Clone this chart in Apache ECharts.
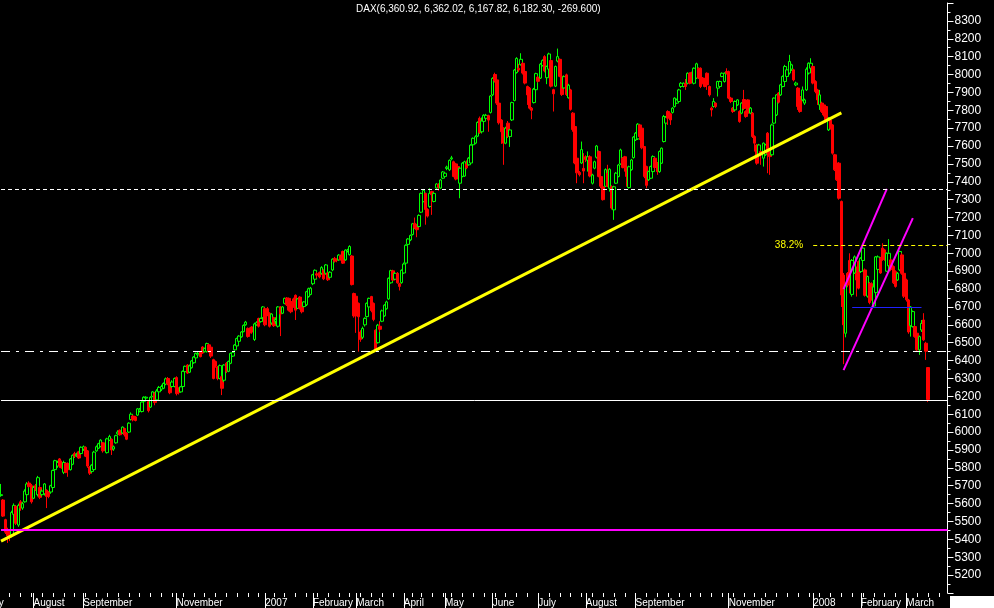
<!DOCTYPE html>
<html>
<head>
<meta charset="utf-8">
<script src="https://cdn.jsdelivr.net/npm/echarts@6/dist/echarts.min.js"></script>
<style>
html,body{margin:0;padding:0;background:#000;overflow:hidden;}
#chart{width:994px;height:608px;}
</style>
</head>
<body>
<div id="chart"></div>
<script>
// ---- DATA: daily DAX candles, each [open, close, low, high] ----
const jul06 = [[5645,5650,5638,5710],[5620,5530,5525,5625],[5510,5440,5430,5515],[5455,5420,5380,5465],[5440,5410,5390,5450],[5425,5550,5410,5560],[5540,5590,5520,5601],[5585,5490,5480,5590],[5480,5590,5470,5600],[5610,5575,5560,5620],[5575,5600,5565,5610],[5610,5670,5605,5680],[5650,5710,5640,5720],[5715,5695,5690,5725],[5700,5610,5600,5710]];
const aug06 = [[5630,5690,5625,5700],[5700,5680,5670,5710],[5650,5745,5640,5755],[5690,5635,5625,5700],[5650,5670,5640,5680],[5655,5710,5645,5715],[5675,5640,5575,5680],[5665,5640,5630,5670],[5665,5700,5655,5705],[5690,5785,5685,5790],[5790,5840,5785,5845],[5810,5830,5800,5840],[5850,5810,5800,5855],[5830,5800,5795,5840],[5775,5830,5765,5840],[5825,5775,5770,5830],[5825,5790,5750,5830],[5790,5850,5785,5855],[5820,5870,5815,5875],[5880,5865,5855,5890],[5868,5875,5860,5885],[5890,5855,5850,5895],[5880,5915,5875,5920]];
const sep06 = [[5905,5918,5895,5925],[5915,5865,5860,5920],[5895,5810,5800,5900],[5805,5770,5760,5810],[5780,5815,5770,5820],[5790,5888,5785,5895],[5895,5918,5890,5925],[5910,5935,5905,5940],[5920,5955,5915,5960],[5940,5895,5885,5945],[5920,5900,5895,5930],[5885,5962,5880,5968],[5955,5975,5950,5985],[5960,5900,5872,5965],[5905,5918,5895,5925],[5940,5980,5935,5985],[5990,6000,5985,6010],[6010,5985,5980,6015],[5995,6028,5990,6032],[6020,5985,5975,6025],[5995,5960,5955,6000]];
const oct06 = [[6000,6050,5995,6055],[6070,6100,6065,6110],[6090,6068,6060,6095],[6085,6065,6060,6090],[6095,6130,6090,6135],[6118,6128,6110,6135],[6115,6168,6110,6172],[6172,6195,6165,6200],[6190,6195,6185,6200],[6170,6120,6110,6175],[6140,6195,6135,6200],[6200,6225,6195,6230],[6215,6165,6150,6225],[6180,6230,6175,6240],[6225,6250,6215,6258],[6240,6255,6230,6265],[6245,6272,6240,6278],[6268,6298,6262,6305],[6300,6270,6262,6308],[6270,6220,6212,6278],[6255,6280,6248,6290],[6255,6300,6250,6305]];
const nov06 = [[6305,6215,6205,6312],[6245,6220,6210,6250],[6225,6253,6220,6258],[6255,6340,6250,6345],[6338,6368,6332,6372],[6375,6330,6325,6380],[6335,6370,6330,6378],[6360,6398,6355,6402],[6388,6420,6382,6425],[6415,6440,6410,6445],[6432,6440,6428,6448],[6448,6422,6418,6452],[6476,6442,6438,6480],[6450,6468,6445,6472],[6450,6495,6445,6500],[6488,6452,6445,6495],[6475,6425,6415,6480],[6405,6300,6295,6410],[6395,6370,6360,6400],[6365,6300,6290,6370],[6300,6372,6295,6378],[6310,6245,6207,6315]];
const dec06 = [[6290,6375,6280,6380],[6385,6340,6330,6392],[6340,6395,6335,6400],[6385,6440,6380,6445],[6425,6445,6420,6452],[6460,6487,6455,6492],[6482,6523,6478,6528],[6508,6537,6502,6542],[6533,6560,6528,6565],[6562,6597,6558,6602],[6600,6615,6595,6622],[6580,6535,6528,6585],[6575,6555,6548,6585],[6588,6560,6550,6592],[6518,6605,6510,6612],[6600,6612,6595,6620],[6635,6592,6585,6640],[6618,6636,6612,6640],[6640,6700,6632,6705]];
const jan07 = [[6690,6600,6592,6698],[6690,6655,6648,6700],[6665,6592,6585,6670],[6610,6660,6600,6665],[6640,6595,6588,6645],[6620,6630,6605,6640],[6592,6700,6585,6705],[6700,6660,6537,6705],[6665,6700,6660,6705],[6720,6748,6715,6752],[6750,6712,6705,6755],[6748,6682,6675,6752],[6730,6673,6665,6735],[6745,6702,6695,6752],[6765,6682,6627,6770],[6692,6745,6688,6750],[6755,6692,6685,6760],[6720,6673,6664,6725],[6702,6728,6698,6732],[6712,6785,6705,6790],[6758,6802,6752,6808],[6770,6805,6765,6812]];
const feb07 = [[6830,6880,6822,6885],[6855,6905,6850,6910],[6885,6878,6860,6895],[6892,6868,6860,6898],[6888,6920,6880,6928],[6905,6857,6850,6910],[6888,6935,6880,6940],[6890,6852,6845,6895],[6866,6894,6860,6900],[6907,6967,6900,6972],[6972,6955,6948,6980],[6965,6960,6950,6972],[6963,6990,6958,6995],[6985,6965,6960,6992],[7010,6945,6940,7015],[6963,7018,6958,7022],[7010,7018,7005,7025],[6992,7038,6988,7045],[6985,6825,6820,6990],[6775,6650,6640,6780]];
const mar07 = [[6760,6650,6555,6770],[6720,6645,6450,6725],[6560,6518,6505,6570],[6530,6580,6520,6590],[6600,6636,6590,6642],[6646,6720,6640,6725],[6700,6748,6695,6752],[6758,6680,6670,6762],[6720,6630,6620,6725],[6570,6462,6450,6575],[6500,6598,6495,6605],[6592,6575,6560,6620],[6620,6678,6615,6685],[6650,6710,6645,6715],[6690,6728,6685,6735],[6745,6860,6740,6865],[6835,6903,6830,6908],[6902,6850,6845,6908],[6855,6888,6850,6895],[6888,6835,6830,6895],[6830,6815,6792,6835],[6836,6905,6830,6910]];
const apr07 = [[6890,6940,6885,6948],[6945,7045,6940,7050],[7050,7080,7045,7085],[7075,7100,7068,7105],[7105,7165,7100,7170],[7168,7142,7135,7200],[7160,7132,7090,7165],[7150,7212,7145,7218],[7230,7335,7225,7340],[7290,7352,7285,7360],[7335,7245,7160,7340],[7245,7208,7200,7252],[7262,7335,7255,7364],[7345,7328,7215,7350],[7290,7335,7285,7342],[7365,7388,7360,7392],[7385,7370,7350,7392],[7365,7410,7360,7415],[7420,7455,7415,7460]];
const may07 = [[7430,7448,7425,7455],[7475,7482,7465,7490],[7467,7520,7460,7525],[7528,7534,7520,7545],[7512,7430,7425,7518],[7500,7415,7408,7506],[7485,7458,7450,7490],[7392,7476,7308,7480],[7430,7504,7425,7510],[7432,7512,7428,7518],[7500,7478,7470,7520],[7495,7532,7490,7538],[7505,7605,7500,7610],[7607,7643,7600,7648],[7616,7652,7610,7660],[7655,7732,7650,7738],[7755,7675,7668,7765],[7680,7740,7670,7760],[7738,7772,7732,7778],[7755,7772,7750,7780],[7770,7745,7680,7775],[7788,7880,7782,7885]];
const jun07 = [[7886,7978,7880,7985],[8000,7965,7955,8010],[7970,7840,7830,7975],[7840,7730,7720,7848],[7745,7680,7612,7750],[7700,7616,7495,7705],[7616,7700,7610,7708],[7728,7655,7645,7740],[7653,7690,7595,7695],[7746,7843,7740,7848],[7855,8025,7850,8030],[8011,8090,8005,8097],[8035,8025,8015,8060],[8055,8085,8050,8119],[8063,8008,8000,8068],[8017,7952,7945,8022],[7933,7886,7830,7938],[7924,7812,7805,7930],[7812,7800,7750,7818],[7843,7918,7838,7925],[7915,8005,7910,8010]];
const jul07 = [[7985,7962,7955,7990],[7980,8058,7975,8065],[8050,8078,8045,8085],[8100,8020,8012,8108],[7982,8045,7946,8050],[8030,8115,8025,8122],[8078,7935,7928,8085],[7915,7892,7793,7920],[7935,8045,7930,8050],[8075,8100,8068,8145],[8085,7990,7985,8090],[7990,7888,7880,7995],[7925,7988,7920,7995],[7998,7888,7880,8005],[7870,7940,7865,7948],[7914,7805,7798,7920],[7784,7692,7680,7790],[7709,7505,7498,7715],[7532,7450,7392,7540],[7452,7440,7430,7460],[7505,7580,7500,7625],[7475,7460,7392,7560]];
const aug07 = [[7540,7525,7510,7548],[7520,7540,7457,7570],[7540,7432,7425,7548],[7392,7438,7385,7445],[7476,7512,7470,7518],[7537,7600,7530,7606],[7569,7430,7425,7575],[7429,7375,7365,7435],[7372,7300,7295,7378],[7375,7468,7370,7475],[7448,7375,7370,7495],[7364,7470,7345,7476],[7373,7253,7245,7380],[7243,7372,7187,7378],[7392,7448,7388,7455],[7430,7494,7425,7500],[7500,7578,7495,7585],[7532,7480,7475,7538],[7540,7478,7457,7545],[7476,7430,7373,7480],[7368,7484,7362,7490],[7468,7522,7462,7528],[7535,7650,7530,7655]];
const sep07 = [[7634,7672,7628,7678],[7640,7722,7634,7728],[7718,7653,7634,7722],[7700,7590,7582,7705],[7597,7430,7420,7600],[7485,7380,7364,7490],[7411,7457,7405,7462],[7420,7485,7415,7490],[7457,7541,7450,7548],[7532,7480,7467,7538],[7504,7457,7439,7510],[7457,7569,7450,7575],[7504,7588,7500,7592],[7625,7765,7620,7774],[7728,7761,7690,7768],[7793,7756,7718,7800],[7780,7746,7718,7786],[7788,7812,7782,7818],[7821,7868,7815,7872],[7840,7858,7835,7865]];
const oct07 = [[7849,7914,7845,7920],[7933,7951,7925,7958],[7933,7951,7928,7956],[7951,7933,7914,7975],[7951,8007,7945,8012],[8007,7951,7945,8012],[8011,7970,7965,8016],[7951,8035,7945,8040],[7980,8060,7975,8066],[8035,7980,7975,8040],[8035,7933,7924,8040],[7980,7951,7945,7986],[7970,7933,7928,7975],[8007,7942,7914,8012],[7933,7886,7877,7938],[7812,7802,7765,7820],[7821,7849,7815,7868],[7840,7821,7812,7845],[7924,7961,7877,7965],[7933,7961,7928,7966],[7989,8007,7985,8012],[7961,8007,7955,8012],[8017,8007,8000,8035]];
const nov07 = [[8017,7868,7862,8022],[7868,7849,7840,7875],[7812,7793,7785,7818],[7802,7849,7795,7855],[7830,7858,7825,7862],[7793,7737,7730,7800],[7784,7840,7778,7845],[7860,7810,7800,7914],[7793,7765,7758,7800],[7858,7784,7778,7862],[7784,7812,7778,7818],[7784,7653,7645,7790],[7653,7616,7569,7660],[7606,7504,7495,7612],[7551,7606,7545,7612],[7569,7551,7495,7575],[7532,7616,7485,7620],[7551,7606,7545,7612],[7672,7560,7448,7678],[7569,7541,7439,7575],[7551,7718,7545,7725],[7728,7868,7722,7872]];
const dec07 = [[7774,7886,7768,7890],[7896,7845,7838,7902],[7886,7942,7880,7948],[7933,7989,7928,7995],[7961,8045,7955,8054],[7989,8026,7982,8032],[8008,8073,8000,8110],[8030,8054,8020,8060],[8026,7970,7962,8032],[7942,7952,7935,7960],[7924,7821,7802,7930],[7877,7793,7786,7882],[7858,7914,7850,7933],[7840,7858,7830,7865],[7914,8030,7908,8040],[8008,8063,8000,8068],[8035,8063,8030,8091]];
const jan08 = [[8045,7952,7945,8050],[7961,7905,7895,7968],[7914,7858,7830,7920],[7830,7886,7802,7914],[7840,7793,7785,7848],[7830,7774,7765,7838],[7821,7737,7730,7826],[7690,7756,7684,7762],[7746,7700,7692,7752],[7718,7560,7552,7722],[7551,7467,7460,7556],[7504,7411,7405,7510],[7504,7308,7300,7510],[7290,6767,6700,7295],[6878,6600,6380,6890],[6553,6823,6530,6830],[6888,6823,6810,6895],[6960,6880,6776,7000],[6770,6960,6758,6968],[6890,6980,6885,6988],[6888,6851,6758,6926],[6954,6805,6798,6960]];
const feb08 = [[6898,6972,6890,6978],[6960,7029,6955,7035],[6907,6765,6758,6915],[6760,6870,6752,6875],[6832,6725,6715,6840],[6830,6745,6735,6838],[6705,6812,6700,6851],[6780,6980,6775,6985],[6910,6980,6905,6988],[6972,6890,6885,6980],[7029,6965,6958,7056],[7019,6965,6958,7025],[6900,7000,6895,7005],[6930,7000,6925,7079],[6963,6910,6900,6970],[6926,6835,6828,6932],[6898,6815,6808,6905],[6851,6888,6845,6895],[6907,7010,6900,7015],[6991,6888,6880,7000],[6888,6760,6750,6895]];
const mar08 = [[6851,6740,6730,6858],[6739,6560,6550,6745],[6595,6700,6534,6705],[6590,6674,6585,6680],[6590,6534,6528,6596],[6553,6460,6455,6560],[6460,6534,6432,6540],[6571,6608,6560,6627],[6627,6516,6510,6665],[6497,6452,6404,6505],[6360.92,6182.30,6167.82,6362.02]];

// trading calendar
const firstDay = '2006-07-11';
const holidays = ['2006-12-25','2006-12-26','2007-01-01','2007-04-06','2007-04-09','2007-05-01','2007-12-24','2007-12-25','2007-12-26','2007-12-31','2008-01-01'];
const emptySlotsAfter = 9;
const monthNames = ['', 'February','March','April','May','June','July','August','September','October','November','December'];
const skippedMonthLabels = ['October','December'];
const clippedFirstLabel = 'July';

// annotation levels
const trendLine = [[0, 5390], [388, 7785]];
const channelUpper = [[389, 6800], [409, 7360]];
const channelLower = [[389, 6347], [421, 7197]];
const supportMagenta = 5452;
const lastCloseLine = 6176;
const dashedLevel = 7360;
const dashDotLevel = 6454;
const fibLevel = 7046, fibStart = 375, fibLabel = '38.2%';
const blueLevel = 6697, blueFrom = 393, blueTo = 425;
const titleText = 'DAX(6,360.92, 6,362.02, 6,167.82, 6,182.30, -269.600)';

// ---- build ----
const candles = [].concat(jul06,aug06,sep06,oct06,nov06,dec06,jan07,feb07,mar07,apr07,may07,jun07,jul07,aug07,sep07,oct07,nov07,dec07,jan08,feb08,mar08);
const dates = [];
(function(){
  let t = Date.parse(firstDay + 'T00:00:00Z');
  const need = candles.length + emptySlotsAfter;
  while (dates.length < need) {
    const d = new Date(t);
    const s = d.toISOString().slice(0,10);
    const wd = d.getUTCDay();
    if (wd !== 0 && wd !== 6 && holidays.indexOf(s) < 0) dates.push(s);
    t += 86400000;
  }
})();
function isMonthStart(i){ return i > 0 && dates[i].slice(0,7) !== dates[i-1].slice(0,7); }
function weekday(s){ return new Date(s + 'T00:00:00Z').getUTCDay(); }
function isWeekStart(i){ return i > 0 && weekday(dates[i]) < weekday(dates[i-1]); }
function monthLabel(s){ const m = +s.slice(5,7); return m === 1 ? s.slice(0,4) : monthNames[m-1]; }
function labelShown(i){ return isMonthStart(i) && skippedMonthLabels.indexOf(monthLabel(dates[i])) < 0; }

const chart = echarts.init(document.getElementById('chart'));
const FONT = 'Liberation Sans, Arial, sans-serif';
chart.setOption({
  backgroundColor: '#000',
  animation: false,
  title: [
    { text: titleText, left: 356, top: 4, padding: 0, textStyle: { color: '#fff', fontSize: 10, fontWeight: 'normal', fontFamily: FONT } },
    { text: clippedFirstLabel, left: -14, top: 598, padding: 0, textStyle: { color: '#fff', fontSize: 10, fontWeight: 'normal', fontFamily: FONT } },
    { text: ' ', left: 950, top: 596, padding: [6, 22, 5, 22], backgroundColor: '#ffffff', textStyle: { fontSize: 1, lineHeight: 1, color: '#fff' } }
  ],
  grid: { left: 1, right: 46.5, top: 3, bottom: 15, containLabel: false },
  xAxis: [{
    type: 'category', data: dates, boundaryGap: false,
    axisLine: { show: false },
    axisTick: { show: true, interval: (i) => labelShown(i), length: 15, lineStyle: { color: '#fff', width: 1 } },
    axisLabel: { show: true, interval: (i) => labelShown(i), formatter: (v) => monthLabel(v), color: '#fff', fontSize: 10, fontFamily: FONT, align: 'left', margin: 5, padding: 0 },
    splitLine: { show: false }
  }, {
    type: 'category', data: dates, boundaryGap: false, gridIndex: 0, position: 'bottom',
    axisLine: { show: false }, axisLabel: { show: false },
    axisTick: { show: true, interval: (i) => isWeekStart(i) && !labelShown(i), length: 4, lineStyle: { color: '#fff' } }
  }],
  yAxis: {
    type: 'value', position: 'right', min: 5100, max: 8400, interval: 100,
    axisLine: { show: true, lineStyle: { color: '#fff' } },
    axisTick: { show: true, length: 6, lineStyle: { color: '#fff' } },
    minorTick: { show: true, splitNumber: 2, length: 3, lineStyle: { color: '#fff' } },
    splitLine: { show: false },
    axisLabel: { color: '#fff', fontSize: 12, fontFamily: FONT, margin: 7, showMinLabel: false, showMaxLabel: false, formatter: (v) => String(v) }
  },
  series: [
    {
      type: 'candlestick', data: candles, barWidth: 3,
      itemStyle: { color: '#000', color0: '#ff0000', borderColor: '#00ff00', borderColor0: '#ff0000', borderWidth: 1 }
    },
    { type: 'line', data: trendLine, symbol: 'none', silent: true, lineStyle: { color: '#ffff00', width: 3 } },
    { type: 'line', data: channelUpper, symbol: 'none', silent: true, lineStyle: { color: '#ff00ff', width: 2 } },
    { type: 'line', data: channelLower, symbol: 'none', silent: true, lineStyle: { color: '#ff00ff', width: 2 } },
    {
      type: 'line', data: [], silent: true,
      markLine: {
        symbol: ['none','none'], silent: true, animation: false,
        label: { show: false },
        data: [
          { yAxis: supportMagenta, lineStyle: { color: '#ff00ff', width: 2, type: 'solid' } },
          { yAxis: lastCloseLine, lineStyle: { color: '#fff', width: 1, type: 'solid' } },
          { yAxis: dashedLevel, lineStyle: { color: '#fff', width: 1, type: [4,3] } },
          { yAxis: dashDotLevel, lineStyle: { color: '#fff', width: 1, type: [9,6,3,6] } },
          [ { coord: [fibStart, fibLevel], label: { show: true, position: 'start', formatter: fibLabel, color: '#ffff00', fontSize: 10, fontFamily: FONT, distance: 10 }, lineStyle: { color: '#ffff00', width: 1, type: [4,3] } }, { coord: [dates.length - 1, fibLevel] } ],
          [ { coord: [blueFrom, blueLevel], lineStyle: { color: '#2020ff', width: 1, type: 'solid' } }, { coord: [blueTo, blueLevel] } ]
        ]
      }
    }
  ]
});
</script>
</body>
</html>
